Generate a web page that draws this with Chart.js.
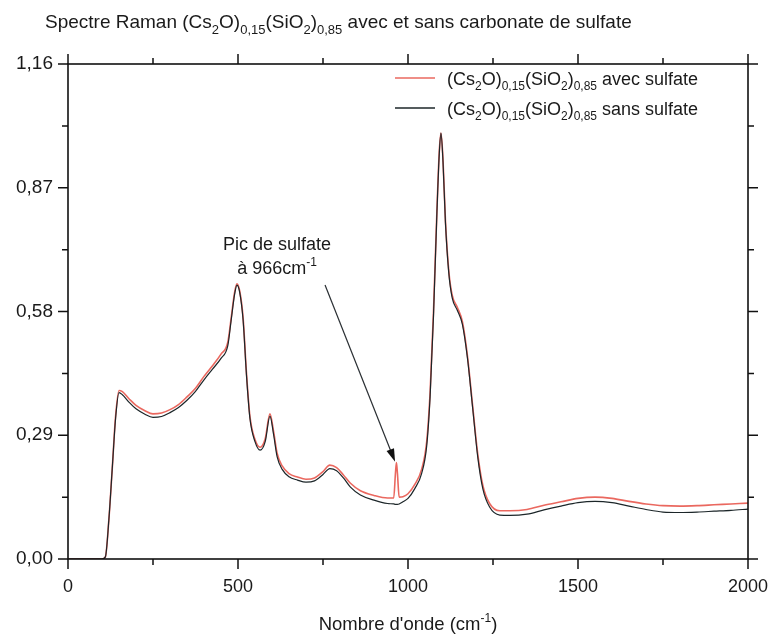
<!DOCTYPE html>
<html>
<head>
<meta charset="utf-8">
<script src="https://cdn.jsdelivr.net/npm/chart.js@4.4.1/dist/chart.umd.min.js"></script>
<style>
  html, body { margin: 0; padding: 0; background: #fff; }
  #wrap { width: 771px; height: 634px; position: relative; }
</style>
</head>
<body>
<div id="wrap"><canvas id="myChart" width="771" height="634"></canvas></div>
<script>
// wavenumbers (cm-1)
const wavenumbers = [0, 100, 110, 120, 130, 140, 150, 160, 180, 200, 225, 250, 275, 300, 325, 350, 375, 400, 425, 450,
  470, 480, 490, 497, 505, 515, 525, 535, 550, 565, 580, 594, 605, 615, 630, 650, 675, 700, 725, 750,
  770, 790, 810, 830, 860, 900, 940, 958, 963, 966, 969, 974, 985, 1000, 1020, 1040, 1055, 1065, 1075, 1085,
  1092, 1097, 1103, 1110, 1120, 1130, 1145, 1160, 1175, 1190, 1205, 1220, 1240, 1270, 1300, 1350, 1400, 1450, 1500, 1550,
  1600, 1650, 1700, 1750, 1800, 1850, 1900, 1950, 2000];

// (Cs2O)0,15(SiO2)0,85 avec sulfate
const avecSulfate = [0, 0, 0.005, 0.09, 0.21, 0.335, 0.395, 0.392, 0.375, 0.36, 0.348, 0.34, 0.342, 0.35, 0.362, 0.38, 0.4, 0.428, 0.453, 0.48,
  0.508, 0.565, 0.625, 0.645, 0.628, 0.565, 0.435, 0.335, 0.28, 0.262, 0.282, 0.34, 0.297, 0.248, 0.218, 0.2, 0.192, 0.187, 0.19, 0.205,
  0.22, 0.214, 0.197, 0.178, 0.16, 0.149, 0.143, 0.143, 0.2, 0.226, 0.2, 0.145, 0.146, 0.153, 0.175, 0.21, 0.275, 0.39, 0.58, 0.815,
  0.955, 0.998, 0.935, 0.795, 0.675, 0.618, 0.59, 0.556, 0.475, 0.36, 0.247, 0.173, 0.13, 0.113, 0.113, 0.116, 0.126, 0.134, 0.142, 0.145,
  0.142, 0.135, 0.129, 0.125, 0.124, 0.125, 0.127, 0.129, 0.131];

// (Cs2O)0,15(SiO2)0,85 sans sulfate
const sansSulfate = [0, 0, 0.005, 0.09, 0.21, 0.33, 0.39, 0.385, 0.367, 0.352, 0.34, 0.332, 0.334, 0.343, 0.355, 0.372, 0.393, 0.42, 0.445, 0.47,
  0.5, 0.56, 0.62, 0.642, 0.625, 0.56, 0.43, 0.33, 0.275, 0.255, 0.275, 0.335, 0.29, 0.24, 0.21, 0.193, 0.185, 0.18, 0.183, 0.198,
  0.212, 0.207, 0.19, 0.169, 0.15, 0.138, 0.13, 0.129, 0.128, 0.128, 0.128, 0.129, 0.134, 0.142, 0.165, 0.2, 0.265, 0.38, 0.57, 0.81,
  0.95, 0.998, 0.93, 0.79, 0.67, 0.612, 0.583, 0.55, 0.47, 0.355, 0.24, 0.165, 0.122, 0.103, 0.102, 0.105, 0.115, 0.124, 0.132, 0.135,
  0.132, 0.124, 0.116, 0.11, 0.109, 0.11, 0.112, 0.114, 0.117];

const xTickValues = [0, 500, 1000, 1500, 2000];
const xTickLabels = ['0', '500', '1000', '1500', '2000'];
const yTickValues = [0, 0.29, 0.58, 0.87, 1.16];
const yTickLabels = ['0,00', '0,29', '0,58', '0,87', '1,16'];

const FONT = '"Liberation Sans", Arial, sans-serif';
const redColor = 'rgba(232, 88, 78, 0.9)';
const blackColor = '#1c2629';

let toPoints = (ys) => wavenumbers.map((x, i) => ({ x: x, y: ys[i] }));

// draw text with sub/superscripts: parts = [[text, 'n'|'sub'|'sup'], ...]
let drawRich = (ctx, parts, x, y, size, align, color) => {
  let widths = parts.map(p => {
    ctx.font = (p[1] === 'n' ? size : Math.round(size * 0.66)) + 'px ' + FONT;
    return ctx.measureText(p[0]).width;
  });
  let total = widths.reduce((a, b) => a + b, 0);
  let cx = align === 'center' ? x - total / 2 : x;
  ctx.textAlign = 'left';
  ctx.textBaseline = 'alphabetic';
  ctx.fillStyle = color || '#1a1a1a';
  parts.forEach((p, i) => {
    let dy = 0;
    if (p[1] === 'sub') dy = size * 0.3;
    if (p[1] === 'sup') dy = -size * 0.42;
    ctx.font = (p[1] === 'n' ? size : Math.round(size * 0.66)) + 'px ' + FONT;
    ctx.fillText(p[0], cx, y + dy);
    cx += widths[i];
  });
};

const decorations = {
  id: 'decorations',
  afterDraw(chart) {
    let ctx = chart.ctx;
    let xs = chart.scales.x, ys = chart.scales.y;
    let a = chart.chartArea;
    ctx.save();

    // frame
    ctx.strokeStyle = '#111';
    ctx.lineWidth = 1.6;
    ctx.strokeRect(a.left, a.top, a.right - a.left, a.bottom - a.top);

    // ticks (outward on all sides)
    ctx.lineWidth = 1.5;
    for (let v = 0; v <= 2000; v += 250) {
      let px = xs.getPixelForValue(v);
      let len = v % 500 === 0 ? 10 : 6;
      ctx.beginPath();
      ctx.moveTo(px, a.bottom); ctx.lineTo(px, a.bottom + len);
      ctx.moveTo(px, a.top); ctx.lineTo(px, a.top - len);
      ctx.stroke();
    }
    for (let k = 0; k <= 8; k++) {
      let py = ys.getPixelForValue(k * 0.145);
      let len = k % 2 === 0 ? 10 : 6;
      ctx.beginPath();
      ctx.moveTo(a.left, py); ctx.lineTo(a.left - len, py);
      ctx.moveTo(a.right, py); ctx.lineTo(a.right + len, py);
      ctx.stroke();
    }

    // tick labels
    ctx.fillStyle = '#1a1a1a';
    ctx.font = '18px ' + FONT;
    ctx.textAlign = 'center';
    ctx.textBaseline = 'alphabetic';
    xTickValues.forEach((v, i) => ctx.fillText(xTickLabels[i], xs.getPixelForValue(v), 592));
    ctx.font = '19px ' + FONT;
    ctx.textAlign = 'right';
    ctx.textBaseline = 'middle';
    yTickValues.forEach((v, i) => ctx.fillText(yTickLabels[i], a.left - 15, ys.getPixelForValue(v)));

    // title
    drawRich(ctx, [['Spectre Raman (Cs', 'n'], ['2', 'sub'], ['O)', 'n'], ['0,15', 'sub'], ['(SiO', 'n'], ['2', 'sub'], [')', 'n'], ['0,85', 'sub'], [' avec et sans carbonate de sulfate', 'n']],
      45, 28, 19, 'left');

    // x axis title
    drawRich(ctx, [["Nombre d'onde (cm", 'n'], ['-1', 'sup'], [')', 'n']], 408, 630, 18.5, 'center');

    // legend
    let legendRows = [
      { color: redColor, parts: [['(Cs', 'n'], ['2', 'sub'], ['O)', 'n'], ['0,15', 'sub'], ['(SiO', 'n'], ['2', 'sub'], [')', 'n'], ['0,85', 'sub'], [' avec sulfate', 'n']] },
      { color: blackColor, parts: [['(Cs', 'n'], ['2', 'sub'], ['O)', 'n'], ['0,15', 'sub'], ['(SiO', 'n'], ['2', 'sub'], [')', 'n'], ['0,85', 'sub'], [' sans sulfate', 'n']] }
    ];
    legendRows.forEach((row, i) => {
      let ly = 78 + i * 30;
      ctx.strokeStyle = row.color;
      ctx.lineWidth = 1.4;
      ctx.beginPath();
      ctx.moveTo(395, ly); ctx.lineTo(435, ly);
      ctx.stroke();
      drawRich(ctx, row.parts, 447, ly + 7, 18, 'left');
    });

    // annotation
    let tx = xs.getPixelForValue(615);
    drawRich(ctx, [['Pic de sulfate', 'n']], tx, 250, 18, 'center');
    drawRich(ctx, [['à 966cm', 'n'], ['-1', 'sup']], tx, 274, 18, 'center');

    let x0 = xs.getPixelForValue(756), y0 = ys.getPixelForValue(0.642);
    let x1 = xs.getPixelForValue(962), y1 = ys.getPixelForValue(0.228);
    let ang = Math.atan2(y1 - y0, x1 - x0);
    ctx.strokeStyle = '#2a2f33';
    ctx.lineWidth = 1.2;
    ctx.beginPath();
    ctx.moveTo(x0, y0);
    ctx.lineTo(x1 - 10 * Math.cos(ang), y1 - 10 * Math.sin(ang));
    ctx.stroke();
    ctx.fillStyle = '#111';
    ctx.beginPath();
    ctx.moveTo(x1, y1);
    ctx.lineTo(x1 - 13 * Math.cos(ang) + 4 * Math.sin(ang), y1 - 13 * Math.sin(ang) - 4 * Math.cos(ang));
    ctx.lineTo(x1 - 13 * Math.cos(ang) - 4 * Math.sin(ang), y1 - 13 * Math.sin(ang) + 4 * Math.cos(ang));
    ctx.closePath();
    ctx.fill();

    ctx.restore();
  }
};

let ctx = document.getElementById('myChart').getContext('2d');
let chart = new Chart(ctx, {
  type: 'line',
  data: {
    datasets: [
      {
        label: '(Cs2O)0,15(SiO2)0,85 sans sulfate',
        data: toPoints(sansSulfate),
        borderColor: blackColor,
        borderWidth: 1.2,
        order: 0
      },
      {
        label: '(Cs2O)0,15(SiO2)0,85 avec sulfate',
        data: toPoints(avecSulfate),
        borderColor: redColor,
        borderWidth: 1.6,
        order: 1
      }
    ]
  },
  options: {
    responsive: false,
    animation: false,
    layout: { padding: { left: 0, right: 23, top: 64, bottom: 0 } },
    elements: {
      point: { radius: 0 },
      line: { cubicInterpolationMode: 'monotone', fill: false }
    },
    plugins: { legend: { display: false }, tooltip: { enabled: false } },
    scales: {
      x: {
        type: 'linear', min: 0, max: 2000,
        grid: { display: false, drawTicks: false },
        border: { display: false },
        ticks: { display: false },
        afterFit: (s) => { s.height = 75; }
      },
      y: {
        min: 0, max: 1.16,
        grid: { display: false, drawTicks: false },
        border: { display: false },
        ticks: { display: false },
        afterFit: (s) => { s.width = 68; }
      }
    }
  },
  plugins: [decorations]
});
</script>
</body>
</html>
